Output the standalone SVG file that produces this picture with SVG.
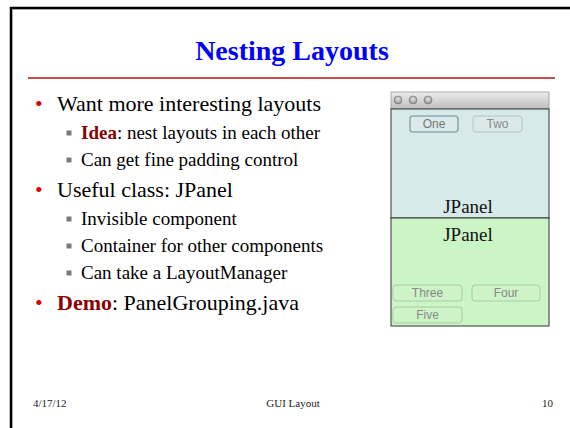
<svg xmlns="http://www.w3.org/2000/svg" width="570" height="428" viewBox="0 0 570 428">
<style>
.t{font-family:"Liberation Serif","Times New Roman",serif;fill:#000}
.b1{font-size:22px}
.b2{font-size:19px}
.red{fill:#e00000}
.dk{fill:#8b0000;font-weight:bold}
.sq{fill:#7a7a7a}
.btn{font-family:"Liberation Sans",Arial,sans-serif;font-size:12px;text-anchor:middle}
.jp{font-family:"Liberation Serif","Times New Roman",serif;font-size:19px;text-anchor:middle;fill:#111}
.ft{font-family:"Liberation Serif","Times New Roman",serif;font-size:11px;fill:#222}
</style>
<defs>
<linearGradient id="tb" x1="0" y1="0" x2="0" y2="1">
<stop offset="0" stop-color="#ececec"/><stop offset="1" stop-color="#bdbdbd"/>
</linearGradient>
<radialGradient id="dot" cx="0.5" cy="0.4" r="0.6">
<stop offset="0" stop-color="#e8e8e8"/><stop offset="1" stop-color="#8a8a8a"/>
</radialGradient>
</defs>
<rect width="570" height="428" fill="#fff"/>
<path d="M11,428 V8 H570" fill="none" stroke="#000" stroke-width="2.5"/>
<path d="M12.5,428 V9.5 H570" fill="none" stroke="#999" stroke-width="0.6"/>

<g id="title">
<text x="292" y="59.5" text-anchor="middle" style="font-family:'Liberation Serif','Times New Roman',serif;font-size:28px;font-weight:bold;fill:#0000ff">Nesting Layouts</text>
<line x1="28" y1="78" x2="555" y2="78" stroke="#b3130f" stroke-width="1.5"/>
</g>

<g id="bullets">
<text x="35" y="111" class="t b1 red">•</text>
<text x="57" y="111" class="t b1">Want more interesting layouts</text>
<rect x="66.5" y="130.5" width="5" height="5" class="sq"/>
<text x="81" y="139" class="t b2"><tspan class="dk">Idea</tspan>: nest layouts in each other</text>
<rect x="66.5" y="157.5" width="5" height="5" class="sq"/>
<text x="81" y="166" class="t b2">Can get fine padding control</text>
<text x="35" y="197" class="t b1 red">•</text>
<text x="57" y="197" class="t b1">Useful class: JPanel</text>
<rect x="66.5" y="216.5" width="5" height="5" class="sq"/>
<text x="81" y="225" class="t b2">Invisible component</text>
<rect x="66.5" y="243.5" width="5" height="5" class="sq"/>
<text x="81" y="252" class="t b2">Container for other components</text>
<rect x="66.5" y="270.5" width="5" height="5" class="sq"/>
<text x="81" y="279" class="t b2">Can take a LayoutManager</text>
<text x="35" y="310" class="t b1 red">•</text>
<text x="57" y="310" class="t b1"><tspan class="dk">Demo</tspan>: PanelGrouping.java</text>
</g>

<g id="window">
<rect x="391" y="92" width="158" height="17" fill="url(#tb)" stroke="#9a9a9a" stroke-width="0.8"/>
<circle cx="398" cy="100" r="4" fill="url(#dot)" stroke="#777" stroke-width="0.6"/>
<circle cx="413" cy="100" r="4" fill="url(#dot)" stroke="#777" stroke-width="0.6"/>
<circle cx="428" cy="100" r="4" fill="url(#dot)" stroke="#777" stroke-width="0.6"/>
<rect x="391" y="109" width="158" height="109" fill="#d8e9e9" stroke="#333" stroke-width="1"/>
<rect x="391" y="218" width="158" height="108" fill="#ccf5c6" stroke="#333" stroke-width="1"/>
</g>

<g id="btn-one">
<rect x="410" y="116" width="48" height="16" rx="3" fill="#dbe9ea" stroke="#8fa9b3" stroke-width="1.6"/>
<text x="434" y="128" class="btn" fill="#777">One</text>
</g>
<g id="btn-two">
<rect x="473" y="116" width="49" height="16" rx="3" fill="#dbe9ea" stroke="#b3c6c8" stroke-width="1"/>
<text x="497.5" y="128" class="btn" fill="#888">Two</text>
</g>
<g id="jpanel-top"><text x="468" y="213" class="jp">JPanel</text></g>
<g id="jpanel-bottom"><text x="468" y="241" class="jp">JPanel</text></g>
<g id="btn-three">
<rect x="393" y="285" width="69" height="16" rx="3" fill="#cdf3c7" stroke="#a9c9a6" stroke-width="1"/>
<text x="427.5" y="297" class="btn" fill="#888">Three</text>
</g>
<g id="btn-four">
<rect x="472" y="285" width="68" height="16" rx="3" fill="#cdf3c7" stroke="#a9c9a6" stroke-width="1"/>
<text x="506" y="297" class="btn" fill="#888">Four</text>
</g>
<g id="btn-five">
<rect x="393" y="307" width="69" height="16" rx="3" fill="#cdf3c7" stroke="#a9c9a6" stroke-width="1"/>
<text x="427.5" y="319" class="btn" fill="#888">Five</text>
</g>

<g id="footer">
<text x="33" y="407" class="ft">4/17/12</text>
<text x="293" y="407" class="ft" text-anchor="middle">GUI Layout</text>
<text x="553" y="407" class="ft" text-anchor="end">10</text>
</g>
</svg>
